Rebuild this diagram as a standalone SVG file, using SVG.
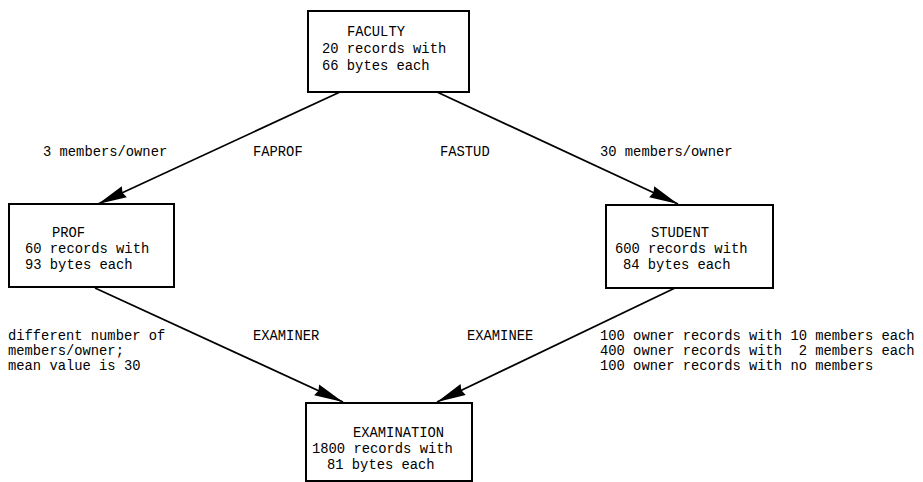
<svg xmlns="http://www.w3.org/2000/svg" width="923" height="482" viewBox="0 0 923 482">
<style>
text{font-family:"Liberation Mono","DejaVu Sans Mono",monospace;font-size:13.8px;fill:#000}
.box{fill:#fff;stroke:#000;stroke-width:2}
.edge{stroke:#000;stroke-width:1.8;fill:none}
</style>
<defs>
<marker id="ah" markerUnits="userSpaceOnUse" markerWidth="32" markerHeight="14" viewBox="-30 -7 32 14" refX="0" refY="0" orient="auto">
<path d="M0,0 L-29,-6 L-27,0 L-29,6 Z" fill="#000"/>
</marker>
</defs>
<rect width="923" height="482" fill="#fff"/>
<g id="connectors">
<line class="edge" x1="340" y1="92" x2="98" y2="204" marker-end="url(#ah)"/>
<line class="edge" x1="437" y1="92" x2="678" y2="204" marker-end="url(#ah)"/>
<line class="edge" x1="95" y1="288" x2="343" y2="402" marker-end="url(#ah)"/>
<line class="edge" x1="675" y1="288" x2="437" y2="402" marker-end="url(#ah)"/>
<text x="43" y="156">3 members/owner</text>
<text x="253" y="156">FAPROF</text>
<text x="440" y="156">FASTUD</text>
<text x="600" y="156">30 members/owner</text>
<text x="253" y="340">EXAMINER</text>
<text x="467" y="340">EXAMINEE</text>
<text x="8" y="340">different number of</text>
<text x="8" y="355">members/owner;</text>
<text x="8" y="370">mean value is 30</text>
<text x="600" y="340" xml:space="preserve">100 owner records with 10 members each</text>
<text x="600" y="355" xml:space="preserve">400 owner records with  2 members each</text>
<text x="600" y="370" xml:space="preserve">100 owner records with no members</text>
</g>
<g id="faculty">
<rect class="box" x="308" y="11" width="161" height="81"/>
<text x="347" y="36">FACULTY</text>
<text x="322" y="53">20 records with</text>
<text x="322" y="70">66 bytes each</text>
</g>
<g id="prof">
<rect class="box" x="9" y="204" width="165" height="83"/>
<text x="52" y="237">PROF</text>
<text x="25" y="253">60 records with</text>
<text x="25" y="269">93 bytes each</text>
</g>
<g id="student">
<rect class="box" x="606" y="205" width="167" height="83"/>
<text x="651" y="237">STUDENT</text>
<text x="615" y="253">600 records with</text>
<text x="623" y="269">84 bytes each</text>
</g>
<g id="examination">
<rect class="box" x="306" y="403" width="166" height="78"/>
<text x="353" y="437">EXAMINATION</text>
<text x="312" y="453">1800 records with</text>
<text x="327" y="469">81 bytes each</text>
</g>
</svg>
